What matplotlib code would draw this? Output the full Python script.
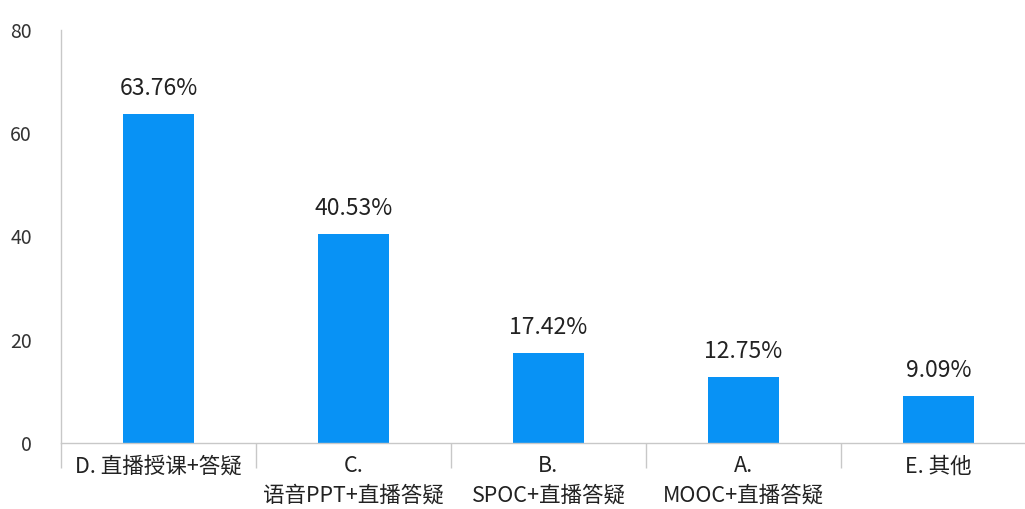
import matplotlib.pyplot as plt

plt.rcParams['font.family'] = ['Noto Sans CJK SC', 'DejaVu Sans']

categories = ['D. 直播授课+答疑', 'C.\n语音PPT+直播答疑', 'B.\nSPOC+直播答疑',
              'A.\nMOOC+直播答疑', 'E. 其他']
values = [63.76, 40.53, 17.42, 12.75, 9.09]
bar_labels = ['63.76%', '40.53%', '17.42%', '12.75%', '9.09%']

fig = plt.figure(figsize=(10.25, 5.09), dpi=100)
ax = fig.add_axes([61 / 1025, 66 / 509, 975 / 1025, 413 / 509])

x = list(range(len(categories)))
bars = ax.bar(x, values, width=0.36, color='#0892f5')

for b, lab in zip(bars, bar_labels):
    ax.annotate(lab, (b.get_x() + b.get_width() / 2, b.get_height()),
                xytext=(0, 10), textcoords='offset points',
                ha='center', va='bottom', fontsize=16.5, color='#222222')

ax.set_xlim(-0.5, len(categories) - 0.5)
ax.set_ylim(0, 80)
ax.set_yticks([0, 20, 40, 60, 80])
ax.tick_params(axis='y', length=0, pad=21, labelsize=14, labelcolor='#333333')

ax.set_xticks(x)
ax.set_xticklabels(categories, fontsize=15.5, color='#222222', linespacing=1.4)
ax.tick_params(axis='x', which='major', length=0, pad=9)
ax.set_xticks([i + 0.5 for i in range(-1, len(categories))], minor=True)
ax.tick_params(axis='x', which='minor', length=18, width=1, color='#c8c8c8')

for s in ['top', 'right']:
    ax.spines[s].set_visible(False)
for s in ['left', 'bottom']:
    ax.spines[s].set_color('#c8c8c8')
    ax.spines[s].set_linewidth(1)

fig.savefig('out.png', dpi=100)
